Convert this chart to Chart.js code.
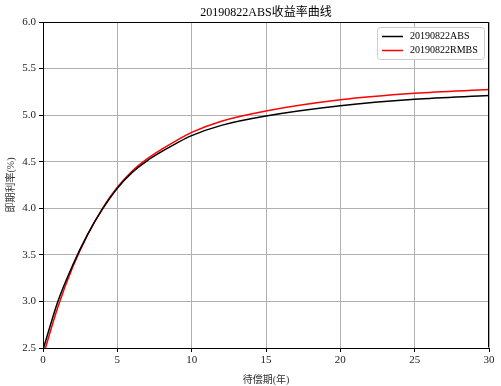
<!DOCTYPE html>
<html>
<head>
<meta charset="utf-8">
<script src="https://cdn.jsdelivr.net/npm/chart.js@4"></script>
<style>
  html, body { margin: 0; padding: 0; background: #fff; }
  #wrap { width: 501px; height: 386px; }
</style>
</head>
<body>
<div id="wrap"><canvas id="yieldChart" width="501" height="386"></canvas></div>
<script>
/* -------- data -------- */
const maturities = [0, 1, 2, 3, 4, 5, 6, 7, 8, 9, 10, 12, 15, 20, 25, 30];
const absRates = [2.48, 3.00, 3.39, 3.72, 3.99, 4.215, 4.385, 4.51, 4.61, 4.70, 4.78, 4.89, 4.99, 5.10, 5.17, 5.21];
const rmbsRates = [2.41, 2.94, 3.37, 3.715, 4.00, 4.225, 4.40, 4.53, 4.635, 4.73, 4.815, 4.935, 5.045, 5.165, 5.235, 5.275];
const seriesNames = ['20190822ABS', '20190822RMBS'];
const xTicks = [0, 5, 10, 15, 20, 25, 30];
const yTicks = [2.5, 3.0, 3.5, 4.0, 4.5, 5.0, 5.5, 6.0];

const FONT = "'Liberation Serif', 'DejaVu Serif', 'Noto Sans CJK SC', serif";

function toPoints(xs, ys) {
    return xs.map((x, i) => ({ x: x, y: ys[i] }));
}

// top and right spines
const frame = {
    id: 'frame',
    afterDraw(chart) {
        const a = chart.chartArea;
        const ctx = chart.ctx;
        ctx.save();
        ctx.strokeStyle = '#000';
        ctx.lineWidth = 1;
        ctx.beginPath();
        ctx.moveTo(Math.round(a.left) + 0.5, Math.round(a.top) + 0.5);
        ctx.lineTo(Math.round(a.right) - 0.5, Math.round(a.top) + 0.5);
        ctx.lineTo(Math.round(a.right) - 0.5, Math.round(a.bottom) - 0.5);
        ctx.stroke();
        ctx.restore();
    },
};

// legend box in upper right corner of the plot
const cornerLegend = {
    id: 'cornerLegend',
    afterDatasetsDraw(chart) {
        const ctx = chart.ctx;
        const a = chart.chartArea;
        ctx.save();
        ctx.font = '10px ' + FONT;
        const textW = Math.max(...chart.data.datasets.map((ds) => ctx.measureText(ds.label).width));
        const w = Math.ceil(34 + textW + 5), h = 32;
        const x0 = Math.round(a.right) - 5 - w, y0 = Math.round(a.top) + 5;
        ctx.fillStyle = 'rgba(255,255,255,0.85)';
        ctx.strokeStyle = '#cccccc';
        ctx.lineWidth = 1;
        ctx.beginPath();
        ctx.roundRect(x0 + 0.5, y0 + 0.5, w, h, 3);
        ctx.fill();
        ctx.stroke();
        ctx.textBaseline = 'middle';
        chart.data.datasets.forEach((ds, i) => {
            const cy = y0 + 9.5 + i * 14;
            ctx.strokeStyle = ds.borderColor;
            ctx.lineWidth = 1.5;
            ctx.beginPath();
            ctx.moveTo(x0 + 5, cy);
            ctx.lineTo(x0 + 26, cy);
            ctx.stroke();
            ctx.fillStyle = '#000';
            ctx.fillText(ds.label, x0 + 33, cy);
        });
        ctx.restore();
    },
};

new Chart(document.getElementById('yieldChart').getContext('2d'), {
    type: 'line',
    data: {
        datasets: [
            {
                label: seriesNames[0],
                data: toPoints(maturities, absRates),
                borderColor: '#000000',
                borderWidth: 1.5,
                pointRadius: 0,
                cubicInterpolationMode: 'monotone',
                fill: false,
            },
            {
                label: seriesNames[1],
                data: toPoints(maturities, rmbsRates),
                borderColor: '#ff0000',
                borderWidth: 1.5,
                pointRadius: 0,
                cubicInterpolationMode: 'monotone',
                fill: false,
            },
        ],
    },
    options: {
        responsive: false,
        animation: false,
        layout: { padding: { top: 0, right: 12, bottom: 0, left: 0 } },
        plugins: {
            legend: { display: false },
            tooltip: { enabled: false },
            title: {
                display: true,
                fullSize: false,
                text: '20190822ABS收益率曲线',
                color: '#000',
                font: { family: FONT, size: 12, weight: 'normal', lineHeight: '14px' },
                padding: { top: 6, bottom: 2 },
            },
        },
        scales: {
            x: {
                type: 'linear',
                min: 0,
                max: 30,
                afterBuildTicks(scale) { scale.ticks = xTicks.map((v) => ({ value: v })); },
                afterFit(scale) { scale.height = 38; },
                grid: { color: '#b0b0b0', tickColor: '#000', tickLength: 4, lineWidth: 1 },
                border: { color: '#000', width: 1 },
                ticks: { color: '#222', padding: 2, maxRotation: 0, font: { family: FONT, size: 11 } },
                title: {
                    display: true,
                    text: '待偿期(年)',
                    color: '#333',
                    padding: { top: 0, bottom: 0 },
                    font: { family: FONT, size: 10 },
                },
            },
            y: {
                min: 2.5,
                max: 6.0,
                afterBuildTicks(scale) { scale.ticks = yTicks.map((v) => ({ value: v })); },
                afterFit(scale) { scale.width = 43; },
                grid: { color: '#b0b0b0', tickColor: '#000', tickLength: 4, lineWidth: 1 },
                border: { color: '#000', width: 1 },
                ticks: {
                    color: '#222',
                    padding: 3,
                    font: { family: FONT, size: 11 },
                    callback: (v) => Number(v).toFixed(1),
                },
                title: {
                    display: true,
                    text: '即期利率(%)',
                    color: '#333',
                    padding: { top: 5, bottom: 0 },
                    font: { family: FONT, size: 10 },
                },
            },
        },
    },
    plugins: [frame, cornerLegend],
});
</script>
</body>
</html>
